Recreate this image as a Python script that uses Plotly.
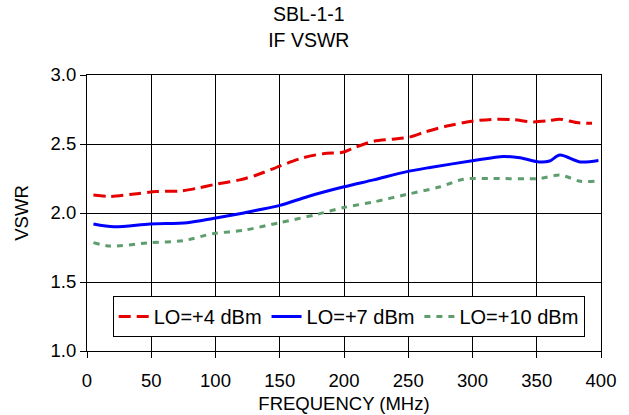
import plotly.graph_objects as go

# LO=+4 dBm
f_lo4 = [5, 18, 39, 54, 73, 86, 101, 119, 132, 150, 168, 184, 199, 207, 223, 238, 251, 264, 280, 301, 319, 332, 347, 358, 368, 381, 393]
v_lo4 = [2.13, 2.12, 2.14, 2.155, 2.16, 2.18, 2.21, 2.24, 2.275, 2.34, 2.40, 2.43, 2.44, 2.47, 2.52, 2.535, 2.55, 2.59, 2.63, 2.667, 2.68, 2.676, 2.66, 2.667, 2.68, 2.655, 2.65]

# LO=+7 dBm
f_lo7 = [5, 21, 49, 78, 98, 122, 132, 150, 172, 200, 223, 249, 267, 301, 324, 337, 352, 360, 368, 384, 398]
v_lo7 = [1.92, 1.90, 1.92, 1.93, 1.96, 2.00, 2.02, 2.055, 2.12, 2.19, 2.24, 2.30, 2.33, 2.38, 2.41, 2.40, 2.37, 2.377, 2.42, 2.37, 2.38]

# LO=+10 dBm
f_lo10 = [5, 18, 49, 75, 98, 122, 150, 179, 200, 223, 249, 275, 293, 314, 352, 368, 384, 395]
v_lo10 = [1.785, 1.76, 1.785, 1.80, 1.85, 1.875, 1.93, 1.99, 2.04, 2.08, 2.135, 2.19, 2.245, 2.25, 2.25, 2.275, 2.23, 2.23]

x_ticks = [0, 50, 100, 150, 200, 250, 300, 350, 400]
y_ticks = [1.0, 1.5, 2.0, 2.5, 3.0]
y_tick_text = ["1.0", "1.5", "2.0", "2.5", "3.0"]

fig = go.Figure()
fig.add_trace(go.Scatter(x=f_lo4, y=v_lo4, mode="lines", name="LO=+4 dBm",
                         line=dict(color="#E60000", width=3, dash="12px,6px", shape="spline", smoothing=0.8)))
fig.add_trace(go.Scatter(x=f_lo7, y=v_lo7, mode="lines", name="LO=+7 dBm",
                         line=dict(color="#0000FF", width=3, shape="spline", smoothing=0.8)))
fig.add_trace(go.Scatter(x=f_lo10, y=v_lo10, mode="lines", name="LO=+10 dBm",
                         line=dict(color="#5E9E6E", width=3, dash="6px,6px", shape="spline", smoothing=0.8)))

fig.update_layout(
    width=629, height=415,
    margin=dict(l=87, r=28, t=75, b=64, autoexpand=False),
    paper_bgcolor="white", plot_bgcolor="white",
    font=dict(family="Arial, Liberation Sans, sans-serif", color="black", size=18),
    title=dict(text="SBL-1-1<br>IF VSWR", x=0.491, xanchor="center", y=0.949, yanchor="top",
               font=dict(size=19.5, color="black")),
    showlegend=True,
    legend=dict(orientation="h", x=0.05, xanchor="left", y=0.199, yanchor="top",
                bgcolor="white", bordercolor="black", borderwidth=1,
                font=dict(size=20), itemwidth=30, tracegroupgap=0),
    xaxis=dict(range=[0, 400], tickvals=x_ticks, ticks="outside", ticklen=6, tickcolor="black",
               showline=True, linecolor="black", linewidth=1, mirror=True,
               showgrid=True, gridcolor="black", gridwidth=1, zeroline=False,
               ticklabelstandoff=7, automargin=False,
               title=dict(text="FREQUENCY (MHz)", standoff=6, font=dict(size=18.5)),
               tickfont=dict(size=18.5)),
    yaxis=dict(range=[1.0, 3.0], tickvals=y_ticks, ticktext=y_tick_text, ticks="outside", ticklen=6,
               tickcolor="black", showline=True, linecolor="black", linewidth=1, mirror=True,
               showgrid=True, gridcolor="black", gridwidth=1, zeroline=False, automargin=False,
               title=dict(text="VSWR", standoff=17, font=dict(size=18.5)),
               tickfont=dict(size=18.5)),
)

fig.write_html("out.html", config={"displayModeBar": False},
               post_script="document.body.style.margin='0';document.body.style.padding='0';")
